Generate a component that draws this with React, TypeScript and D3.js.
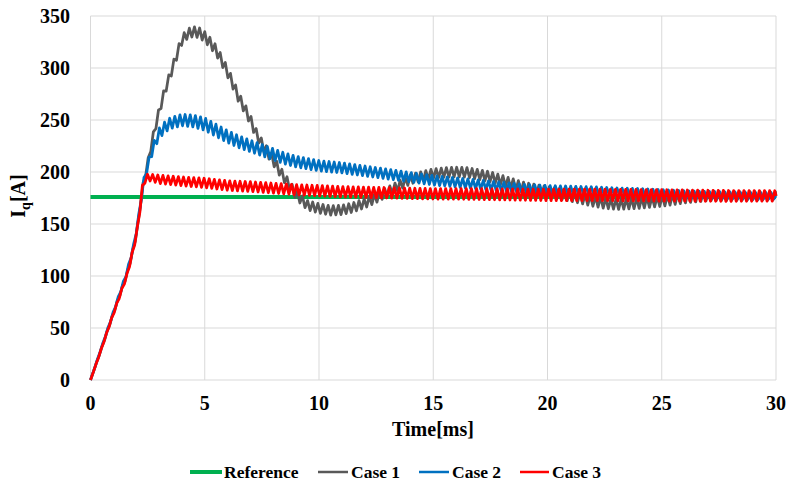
import React from "react";
import * as d3 from "d3";

// ---------- data ----------
const xTicks = [0, 5, 10, 15, 20, 25, 30];
const yTicks = [0, 50, 100, 150, 200, 250, 300, 350];

const referenceTime = [0, 30];
const referenceValues = [176, 176];

const case1Time = [0, 0.4, 0.8, 1.2, 1.6, 1.9, 2.1, 2.2, 2.3, 2.5, 2.75, 3.0, 3.25, 3.5, 3.75, 4, 4.25, 4.5, 4.75, 5, 5.25, 5.5, 5.75, 6, 6.25, 6.5, 6.75, 7, 7.25, 7.5, 7.75, 8, 8.25, 8.5, 8.75, 9, 9.5, 10, 10.5, 11, 11.5, 12, 12.5, 13, 13.5, 14, 14.5, 15, 15.5, 16, 16.5, 17, 17.5, 18, 18.5, 19, 19.5, 20, 21, 22, 22.5, 23, 24, 25, 26, 27, 28, 29, 30];
const case1Values = [0, 25, 51, 77, 102, 128, 152, 172, 187, 208, 235, 258, 278, 294, 311, 327, 333, 335, 334, 330, 324, 317, 307, 296, 284, 271, 261, 250, 237, 227, 219, 211, 202, 194, 186, 178, 168, 165, 163, 163.5, 166, 170, 175, 181, 187, 193, 196, 198.5, 199.5, 200, 199.5, 197.5, 195.5, 192, 188.5, 185, 183, 181, 177, 172, 170, 169, 170, 172, 175, 177, 177, 177, 177];

const case2Time = [0, 0.4, 0.8, 1.2, 1.6, 1.9, 2.1, 2.2, 2.3, 2.5, 2.75, 3.0, 3.25, 3.5, 4, 4.5, 5, 5.5, 6, 6.5, 7, 7.5, 8, 8.5, 9, 9.5, 10, 11, 12, 13, 14, 15, 16, 17, 18, 19, 20, 21, 22, 23, 24, 25, 26, 27, 28, 29, 30];
const case2Values = [0, 26, 52, 78, 104, 130, 155, 172, 188, 206, 224, 237, 243, 247, 250, 249, 246, 240, 234, 229, 225, 221, 217, 213, 210, 208, 206, 204, 201, 198, 195, 192, 190, 188, 186, 184, 183, 182.5, 182, 181, 180.5, 179.5, 178.5, 178, 177.5, 177, 177];

const case3Time = [0, 0.4, 0.8, 1.2, 1.6, 1.9, 2.1, 2.2, 2.3, 2.5, 3, 3.5, 4, 5, 6, 7, 8, 9, 10, 11, 12, 13, 14, 15, 16, 18, 20, 22, 25, 28, 30];
const case3Values = [0, 25, 51, 76, 101, 128, 151, 172, 190, 195, 193, 192, 191, 189.5, 187, 186, 184.5, 183, 182, 181, 180.5, 180, 179.5, 179, 179, 178.5, 178, 178, 177.5, 177, 177];

// ripple (peak-to-peak) amplitude of the switching oscillation, per case
const rippleTime = [0, 2, 3, 5, 10, 15, 20, 25, 30];
const case1Ripple = [0, 4, 8, 10, 9, 9, 10, 10, 8];
const case2Ripple = [0, 4, 10, 12, 10, 9, 8, 7, 6];
const case3Ripple = [0, 4, 8, 9, 10, 10, 11, 11, 10];
const ripplePeriod = 0.225; // ms

const legendLabels = ["Reference", "Case 1", "Case 2", "Case 3"];
const colors = ["#00b050", "#595959", "#0070c0", "#ff0000"];

// ---------- layout ----------
const W = 788;
const H = 484;
const m = { left: 90.5, right: 12, top: 16, bottom: 104 };
const FONT = "'Liberation Serif', 'Times New Roman', Times, serif";

export default function App() {
  const x = d3.scaleLinear().domain([0, 30]).range([m.left, W - m.right]);
  const y = d3.scaleLinear().domain([0, 350]).range([H - m.bottom, m.top]);

  const line = d3
    .line<[number, number]>()
    .x((d) => x(d[0]))
    .y((d) => y(d[1]));

  const rippled = (times: number[], vals: number[], amps: number[], phase: number) => {
    const mean = d3.scaleLinear().domain(times).range(vals);
    const amp = d3.scaleLinear().domain(rippleTime).range(amps);
    const pts: [number, number][] = [[0, 0]];
    const step = ripplePeriod / 2;
    for (let k = 0; ; k++) {
      const t = phase + k * step;
      if (t > 30) break;
      if (t <= 0) continue;
      const s = k % 2 === 0 ? 1 : -1;
      pts.push([t, mean(t) + (s * amp(t)) / 2]);
    }
    pts.push([30, mean(30)]);
    return pts;
  };

  const refPts: [number, number][] = referenceTime.map((t, i) => [t, referenceValues[i]]);
  const c1 = rippled(case1Time, case1Values, case1Ripple, 0.05);
  const c2 = rippled(case2Time, case2Values, case2Ripple, 0.09);
  const c3 = rippled(case3Time, case3Values, case3Ripple, 0.02);

  const legendItems = [
    { x1: 190, x2: 222, tx: 224, w: 4 },
    { x1: 318, x2: 348, tx: 351, w: 2.5 },
    { x1: 419, x2: 449, tx: 452, w: 2.5 },
    { x1: 520, x2: 549, tx: 552, w: 2.5 },
  ];

  return (
    <svg
      width={W}
      height={H}
      style={{ position: "absolute", left: 0, top: 0, background: "#fff", fontFamily: FONT }}
    >
      <rect width={W} height={H} fill="#fff" />
      {/* grid */}
      {yTicks.map((t) => (
        <line key={"gy" + t} x1={x(0)} x2={x(30)} y1={y(t)} y2={y(t)} stroke="#d9d9d9" strokeWidth={1} />
      ))}
      {xTicks.map((t) => (
        <line key={"gx" + t} x1={x(t)} x2={x(t)} y1={y(0)} y2={y(350)} stroke="#d9d9d9" strokeWidth={1} />
      ))}
      {/* tick labels */}
      {yTicks.map((t) => (
        <text key={"ly" + t} x={70} y={y(t)} dy="0.35em" textAnchor="end" fontSize={20} fontWeight="bold" fill="#000">
          {t}
        </text>
      ))}
      {xTicks.map((t) => (
        <text key={"lx" + t} x={x(t)} y={410} textAnchor="middle" fontSize={20} fontWeight="bold" fill="#000">
          {t}
        </text>
      ))}
      {/* axis titles */}
      <text x={433} y={436} textAnchor="middle" fontSize={20} fontWeight="bold">
        Time[ms]
      </text>
      <text transform="translate(25,196) rotate(-90)" textAnchor="middle" fontSize={20} fontWeight="bold">
        I
        <tspan fontSize={14} dy={5}>q</tspan>
        <tspan dy={-5}>[A]</tspan>
      </text>
      {/* series */}
      <path d={line(refPts) ?? ""} fill="none" stroke={colors[0]} strokeWidth={4} />
      <path d={line(c1) ?? ""} fill="none" stroke={colors[1]} strokeWidth={2.75} strokeLinejoin="round" />
      <path d={line(c2) ?? ""} fill="none" stroke={colors[2]} strokeWidth={2.75} strokeLinejoin="round" />
      <path d={line(c3) ?? ""} fill="none" stroke={colors[3]} strokeWidth={2.75} strokeLinejoin="round" />
      {/* legend */}
      {legendItems.map((it, i) => (
        <g key={"lg" + i}>
          <line x1={it.x1} x2={it.x2} y1={472} y2={472} stroke={colors[i]} strokeWidth={it.w} />
          <text x={it.tx} y={472} dy="0.35em" fontSize={17.5} fontWeight="bold">
            {legendLabels[i]}
          </text>
        </g>
      ))}
    </svg>
  );
}
